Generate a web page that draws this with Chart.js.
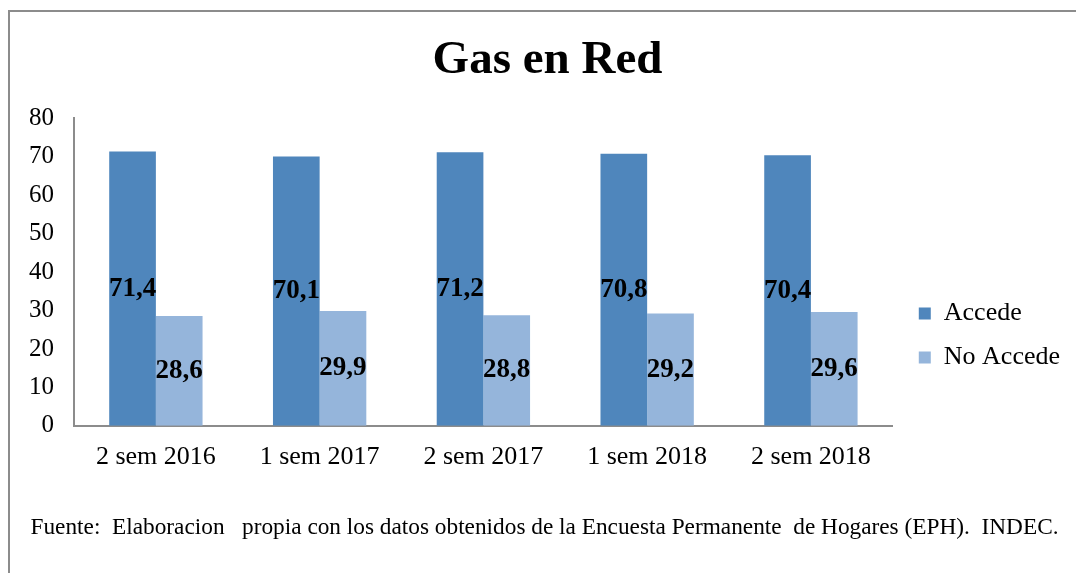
<!DOCTYPE html>
<html>
<head>
<meta charset="utf-8">
<script src="https://cdn.jsdelivr.net/npm/chart.js@4"></script>
<style>
  html, body { margin: 0; padding: 0; background: #fff; }
  #wrap { position: relative; width: 1076px; height: 573px; }
  #frame { position: absolute; left: 8px; top: 10px; right: 0; bottom: 0;
           border-top: 2px solid #8c8c8c; border-left: 2px solid #8c8c8c; }
  canvas { position: absolute; left: 0; top: 0; }
</style>
</head>
<body>
<div id="wrap">
  <div id="frame"></div>
  <canvas id="barChart" width="1076" height="573"></canvas>
</div>
<script>
var labels = ["2 sem 2016", "1 sem 2017", "2 sem 2017", "1 sem 2018", "2 sem 2018"];
var accede = [71.4, 70.1, 71.2, 70.8, 70.4];
var noAccede = [28.6, 29.9, 28.8, 29.2, 29.6];
var yTicks = [0, 10, 20, 30, 40, 50, 60, 70, 80];

var serif = "'Liberation Serif', 'Times New Roman', serif";

// etiquetas en el medio de cada barra
var valueLabels = {
  id: "valueLabels",
  afterDatasetsDraw: function (chart) {
    var ctx = chart.ctx;
    ctx.save();
    ctx.font = "bold 27px " + serif;
    ctx.fillStyle = "#000";
    ctx.textAlign = "center";
    ctx.textBaseline = "middle";
    chart.data.datasets.forEach(function (ds, i) {
      chart.getDatasetMeta(i).data.forEach(function (bar, j) {
        var y = (bar.y + bar.base) / 2;
        ctx.fillText(ds.data[j].toFixed(1).replace(".", ","), bar.x, y);
      });
    });
    ctx.restore();
  },
};

// ajusta la posicion de la leyenda, el titulo y la fuente
var shiftBoxes = {
  id: "shiftBoxes",
  afterLayout: function (chart) {
    var lg = chart.legend;
    lg.left += 8;
    lg.right += 8;
    lg.top += 49;
    lg.bottom += 49;
    chart.boxes.forEach(function (b) {
      if (b.options && typeof b.options.text === "string") {
        var dx = b.options.position === "bottom" ? 9 : 12;
        b.left += dx;
        b.right += dx;
      }
    });
  },
};

var ctx = document.getElementById("barChart").getContext("2d");
var barChart = new Chart(ctx, {
  type: "bar",
  data: {
    labels: labels,
    datasets: [
      {
        label: "Accede",
        data: accede,
        backgroundColor: "#4F86BC",
        categoryPercentage: 0.57,
        barPercentage: 1,
      },
      {
        label: "No Accede",
        data: noAccede,
        backgroundColor: "#95B5DB",
        categoryPercentage: 0.57,
        barPercentage: 1,
      },
    ],
  },
  options: {
    responsive: false,
    animation: false,
    layout: {
      padding: { left: 9, right: 14, top: 0, bottom: 0 },
    },
    plugins: {
      title: {
        display: true,
        text: "Gas en Red",
        color: "#000",
        font: { family: serif, size: 47, weight: "bold" },
        padding: { top: 33, bottom: 29 },
      },
      subtitle: {
        display: true,
        position: "bottom",
        text: "Fuente:  Elaboracion   propia con los datos obtenidos de la Encuesta Permanente  de Hogares (EPH).  INDEC.",
        color: "#000",
        font: { family: serif, size: 23.3 },
        padding: { top: 25, bottom: 31 },
      },
      legend: {
        position: "right",
        labels: {
          color: "#000",
          font: { family: serif, size: 26 },
          boxWidth: 12,
          boxHeight: 12,
          padding: 18,
        },
      },
      tooltip: { enabled: false },
    },
    scales: {
      x: {
        grid: { display: false, drawTicks: false },
        border: { display: true, color: "#8c8c8c", width: 2 },
        ticks: { color: "#000", font: { family: serif, size: 26 }, padding: 16 },
      },
      y: {
        min: 0,
        max: 80,
        afterBuildTicks: function (axis) {
          axis.ticks = yTicks.map(function (v) { return { value: v }; });
        },
        grid: { display: false, drawTicks: false },
        border: { display: true, color: "#8c8c8c", width: 2 },
        ticks: { color: "#000", font: { family: serif, size: 25 }, padding: 20 },
      },
    },
  },
  plugins: [valueLabels, shiftBoxes],
});
</script>
</body>
</html>
